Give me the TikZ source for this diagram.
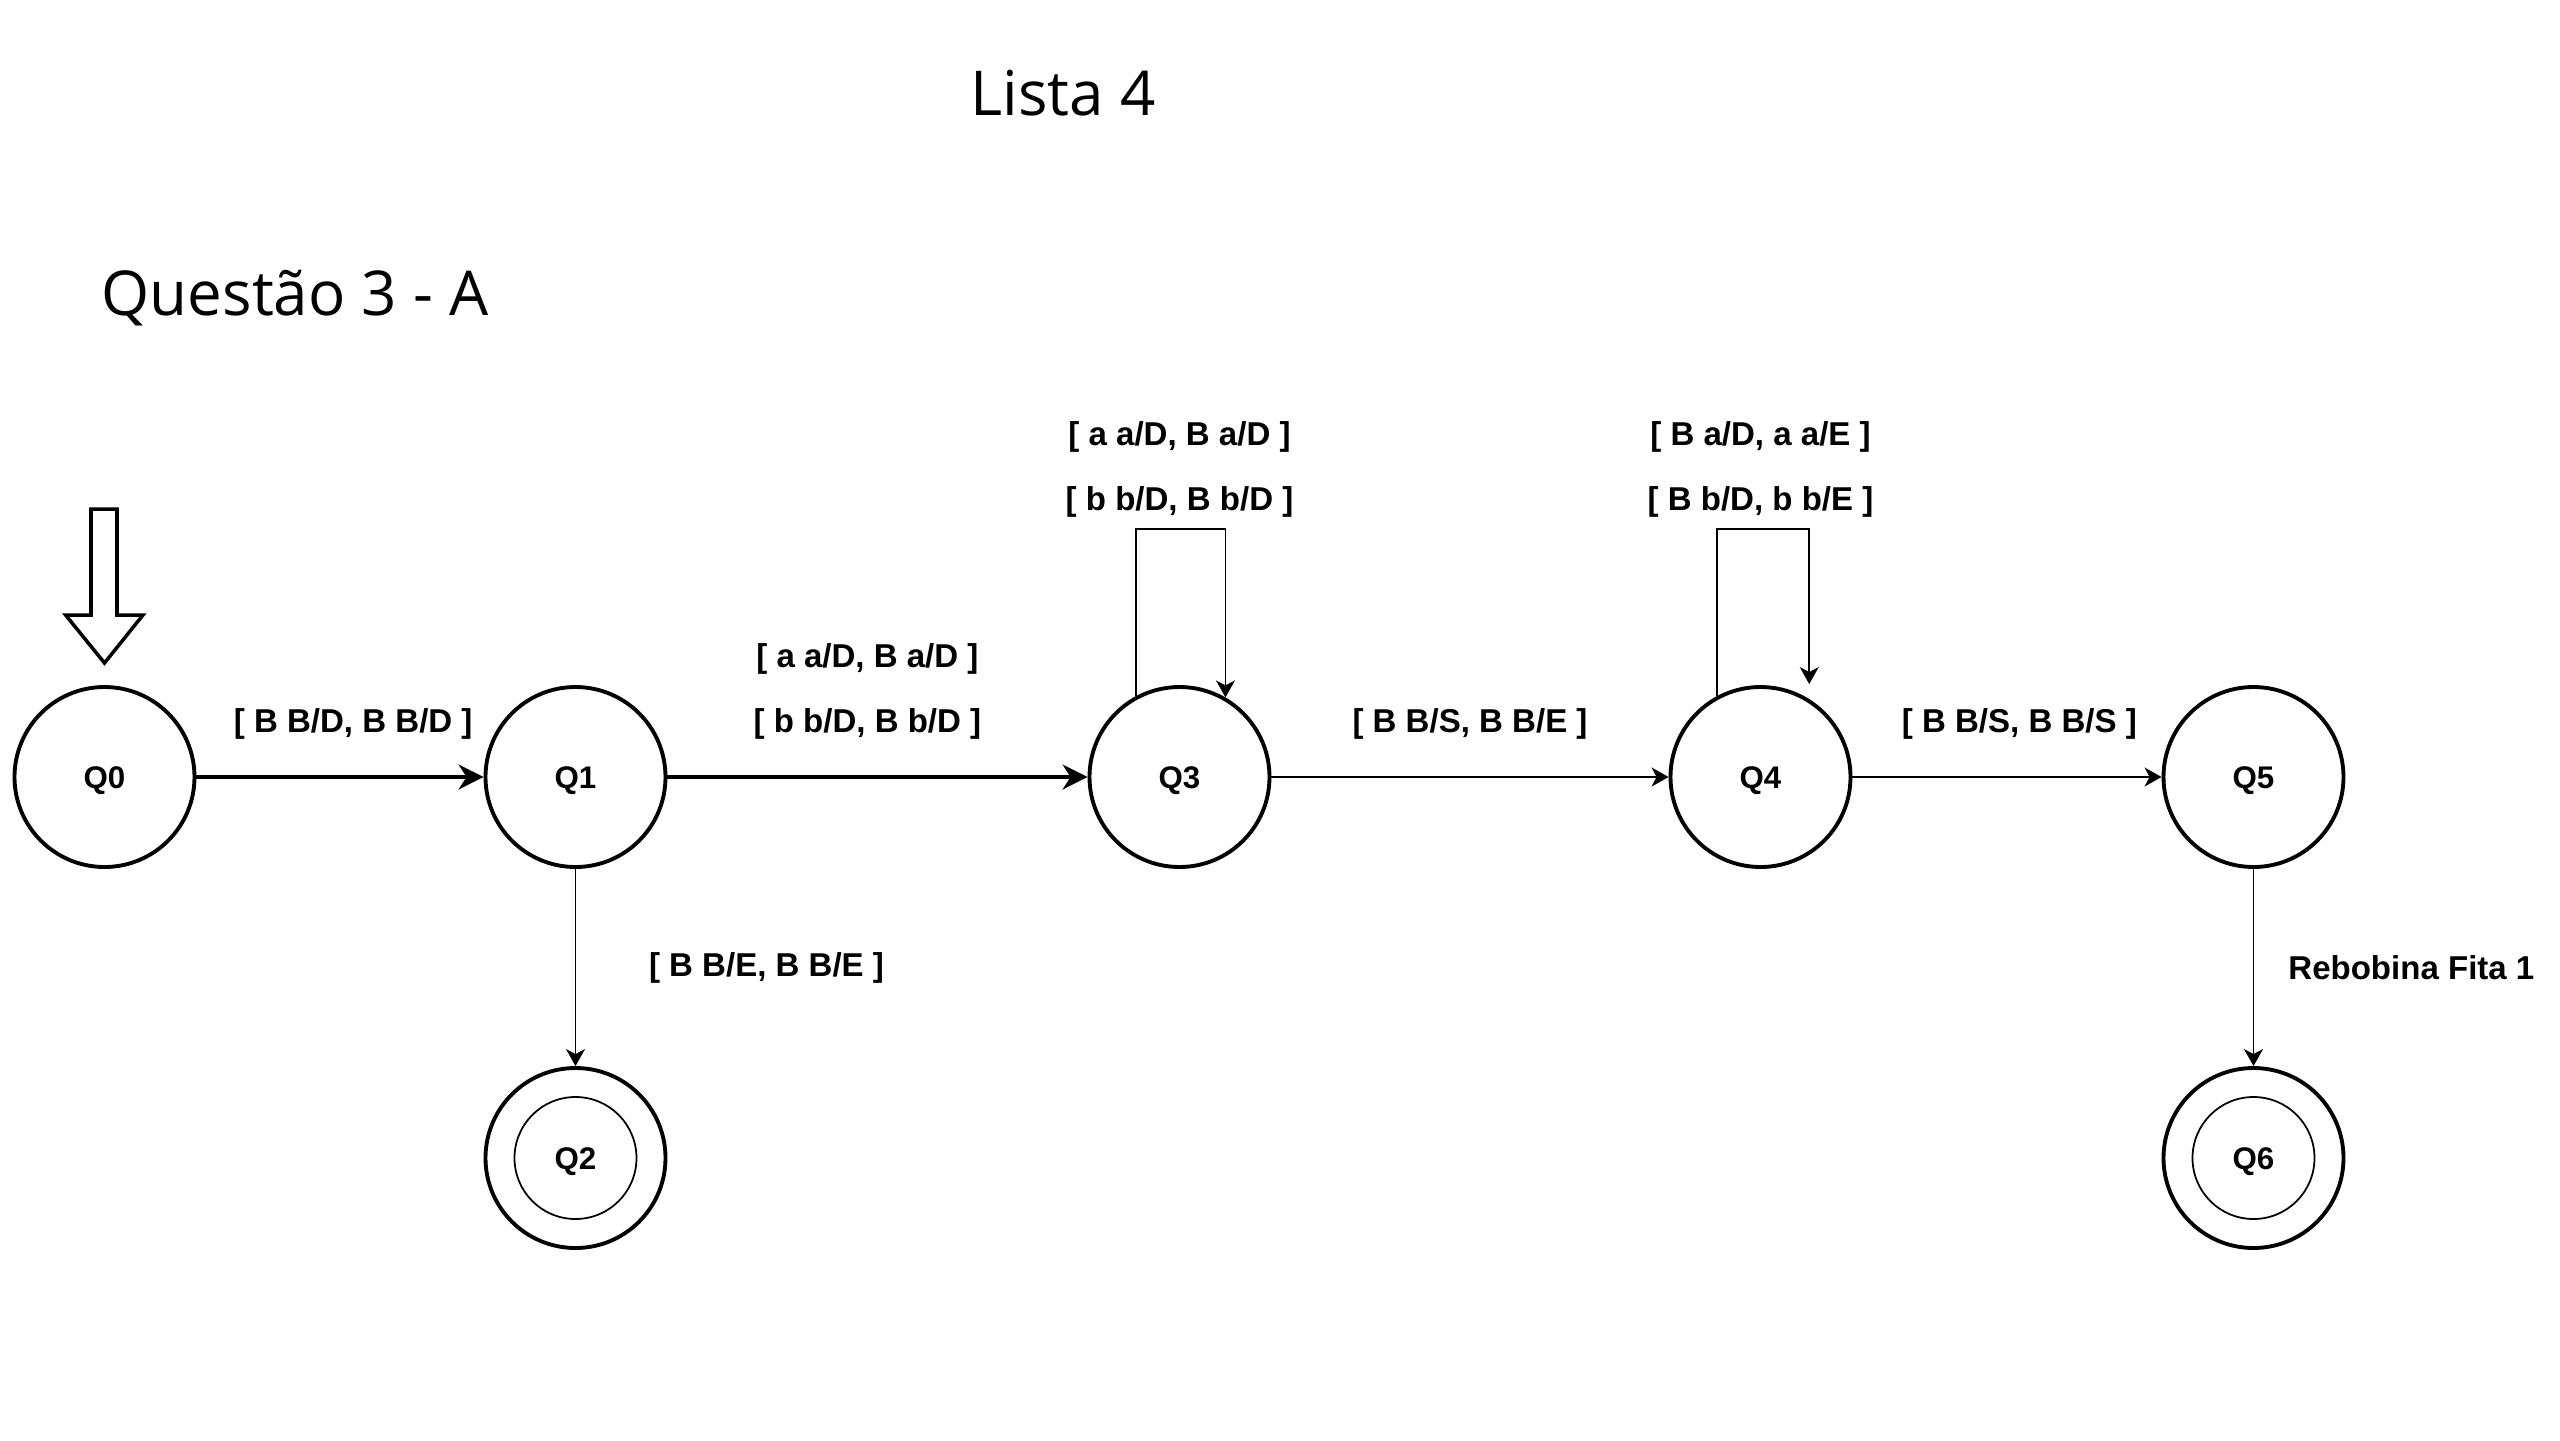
\documentclass[tikz,border=0pt]{standalone}
\usepackage{fontspec}
\setmainfont{Liberation Sans}
\newfontfamily\titlefont{Open Sans}
\usetikzlibrary{shapes,arrows.meta,positioning}
\tikzset{
  state/.style      = {draw, circle, line width=1.1pt, minimum size=1.8cm, inner sep=0pt, text height=0.225cm, text depth=0cm, font=\fontsize{8.9}{10}\selectfont\bfseries},
  lbl/.style        = {inner sep=0pt, font=\fontsize{9.4}{11}\selectfont\bfseries},
  heading/.style    = {anchor=base west, inner sep=0pt, font=\titlefont\fontsize{17.6}{21}\selectfont},
  thickarrow/.style = {line width=0.95pt, -{Stealth[length=0.25cm, width=0.25cm, inset=0.08cm]}},
  thinarrow/.style  = {line width=0.5pt, -{Stealth[length=0.17cm, width=0.19cm, inset=0.05cm]}}
}

\begin{document}
\begin{tikzpicture}[node distance=2cm]
\useasboundingbox (0,0) rectangle (25.6,-14.4);

% Titles
\node [heading] (lista) at (9.70,-1.15) {Lista 4};
\node [heading] (questao) at (1.01,-3.15) {Questão 3 - A};

% States
\draw node [state, name=q0] at (1.045,-7.77) {Q0};
\draw node [state, name=q1, right of=q0, node distance=4.71cm] {Q1};
\draw node [state, name=q3, right of=q1, node distance=6.04cm] {Q3};
\draw node [state, name=q4, right of=q3, node distance=5.81cm] {Q4};
\draw node [state, name=q5, right of=q4, node distance=4.93cm] {Q5};
\draw node [state, name=q2, below of=q1, node distance=3.81cm] {Q2};
\draw node [state, name=q6, below of=q5, node distance=3.81cm] {Q6};
\foreach \n in {q2,q6}
  \draw[line width=0.5pt] (\n) circle (0.61);

% Initial marker
\draw[line width=1pt] (0.91,-5.09) -- (1.17,-5.09) -- (1.17,-6.15) -- (1.43,-6.15)
  -- (1.045,-6.63) -- (0.656,-6.15) -- (0.91,-6.15) -- cycle;

% Loop labels
\node [lbl, above of=q3, node distance=3.40cm] (l3a) {[ a a/D, B a/D ]};
\node [lbl, above of=q3, node distance=2.75cm] (l3b) {[ b b/D, B b/D ]};
\node [lbl, above of=q4, node distance=3.40cm] (l4a) {[ B a/D, a a/E ]};
\node [lbl, above of=q4, node distance=2.75cm] (l4b) {[ B b/D, b b/E ]};

% Transitions
\draw[thickarrow] (q0) -- node[lbl, pos=0.546, yshift=0.53cm] {[ B B/D, B B/D ]} (q1);
\draw[thickarrow] (q1) -- node[lbl, pos=0.476, yshift=1.18cm] {[ a a/D, B a/D ]}
  node[lbl, pos=0.476, yshift=0.53cm] {[ b b/D, B b/D ]} (q3);
\draw[thinarrow] (q3) -- node[lbl, yshift=0.53cm] {[ B B/S, B B/E ]} (q4);
\draw[thinarrow] (q4) -- node[lbl, pos=0.54, yshift=0.53cm] {[ B B/S, B B/S ]} (q5);
\draw[thinarrow] (q1) -- node[lbl, xshift=1.91cm] {[ B B/E, B B/E ]} (q2);
\draw[thinarrow] (q5) -- node[lbl, right, xshift=0.34cm] {Rebobina Fita 1} (q6);
\draw[thinarrow] (q3.118) -- ++(0,1.665) -| (q3.60);
\draw[thinarrow] (q4.118) -- ++(0,1.665) -| ([yshift=0.15cm]q4.58.5);

\end{tikzpicture}
\end{document}
